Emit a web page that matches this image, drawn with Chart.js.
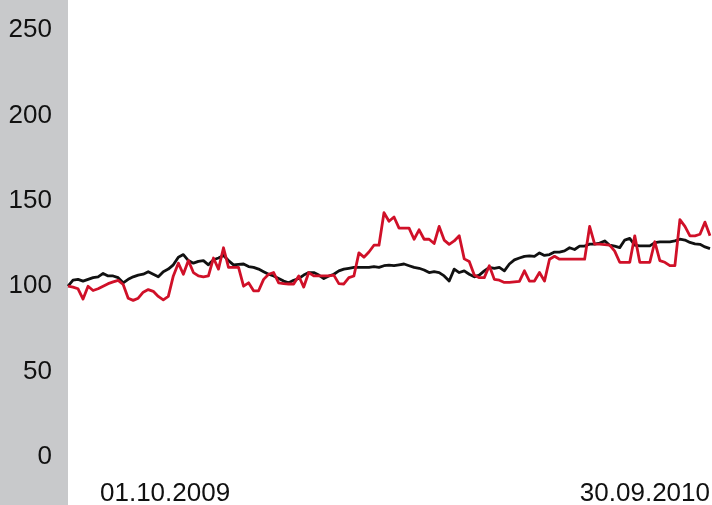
<!DOCTYPE html>
<html>
<head>
<meta charset="utf-8">
<script src="https://cdn.jsdelivr.net/npm/chart.js@4/dist/chart.umd.min.js"></script>
<style>
  html, body { margin: 0; padding: 0; background: #fff; }
  #wrapper { width: 712px; height: 505px; position: relative; }
</style>
</head>
<body>
<div id="wrapper"><canvas id="chartjs" width="712" height="505"></canvas></div>
<script>
// first and last date under the plot
const dateLabels = ['01.10.2009', '30.09.2010'];

const yTicks = [0, 50, 100, 150, 200, 250];

// benchmark index (black), rebased to 100
const indexValues = [
  100, 103.5, 104, 103, 104, 105, 105.5, 107.5, 106, 106,
  105, 102, 104, 105.5, 106.5, 107, 108.5, 107, 105.5, 108.5,
  110, 112.5, 117, 118.5, 115, 113.5, 114.5, 115, 112.5, 115.5,
  116.5, 118, 115, 112.5, 112.8, 113, 111.5, 111, 110, 108.5,
  107, 106, 104.5, 103, 102, 103.5, 104.5, 106.5, 108, 108,
  106.5, 104.5, 106, 107, 109, 110, 110.5, 111, 111, 111,
  111, 111.5, 111, 112, 112.3, 112, 112.5, 113, 112, 111,
  110.5, 109.5, 108, 108.5, 108, 106, 103, 110, 108, 109,
  107, 105.5, 106.5, 109, 111, 110.5, 111, 109, 113, 115.4,
  116.5, 117.5, 117.7, 117.5, 119.5, 118, 118.5, 120, 120, 120.7,
  122.5, 121.5, 123.5, 123.5, 124.6, 124.6, 125.3, 126.5, 124, 123.5,
  122.6, 127, 128, 124, 123.6, 123.6, 123.6, 125.5, 126, 126,
  126, 126.5, 127.5, 127, 125.6, 124.8, 124.5, 123, 122
];

// share price (red), rebased to 100
const stockValues = [
  100, 99.5, 98.5, 92.5, 100, 97.5, 98.5, 100, 101.5, 102.5,
  103.4, 101, 93, 91.7, 93, 96.5, 98, 97, 94, 92,
  94, 106, 113.5, 107, 115, 108, 106, 105.5, 106, 116.5,
  110, 122.5, 111, 111, 111, 100, 102, 97.3, 97.3, 104,
  107, 108, 102, 101.5, 101.3, 101.3, 106, 99.5, 108, 106,
  106, 106, 106, 106.5, 101.5, 101.3, 105, 106, 119.5, 117,
  120, 124, 124, 143, 138, 140.5, 134, 134, 134, 127.5,
  133, 127.5, 127.5, 125, 135, 127, 124.5, 126.5, 129.5, 116,
  114.5, 106.5, 105, 105, 112, 104, 103.5, 102.2, 102.2, 102.5,
  102.8, 109, 103, 103, 108, 103, 115.8, 117.5, 115.8, 115.8,
  115.8, 115.8, 115.8, 115.8, 135, 124.6, 124.6, 124.3, 124, 120.5,
  114, 114, 114, 129.5, 114, 114, 114, 126, 115, 114,
  112, 112, 139, 135, 129.5, 129.5, 130.4, 137.5, 129.5
];

const days = indexValues.map((v, i) => i);

const FONT = "'Liberation Sans', Arial, Helvetica, sans-serif";

// grey band behind the y axis labels
const greyPanel = {
  id: 'greyPanel',
  beforeDraw(chart) {
    const ctx = chart.ctx;
    ctx.save();
    ctx.fillStyle = '#c8c9cb';
    ctx.fillRect(0, 0, chart.scales.y.right, chart.height);
    ctx.restore();
  }
};

// the two dates under the plot
const dateTicks = {
  id: 'dateTicks',
  afterDraw(chart) {
    const ctx = chart.ctx;
    const x = chart.scales.x;
    const y = chart.chartArea.bottom + 37;
    ctx.save();
    ctx.font = '26px ' + FONT;
    ctx.fillStyle = '#111';
    ctx.textBaseline = 'middle';
    ctx.textAlign = 'left';
    ctx.fillText(dateLabels[0], x.getPixelForValue(0) + 32, y);
    ctx.textAlign = 'right';
    ctx.fillText(dateLabels[1], x.getPixelForValue(days.length - 1), y);
    ctx.restore();
  }
};

function drawChart(id) {
  const ctx = document.getElementById(id).getContext('2d');
  new Chart(ctx, {
    type: 'line',
    data: {
      labels: days,
      datasets: [{
        label: 'Share',
        data: stockValues,
        borderColor: 'rgb(208, 16, 40)',
        borderWidth: 2.8,
        pointRadius: 0,
        tension: 0,
        borderJoinStyle: 'round'
      }, {
        label: 'Index',
        data: indexValues,
        borderColor: '#111',
        borderWidth: 2.8,
        pointRadius: 0,
        tension: 0,
        borderJoinStyle: 'round'
      }]
    },
    options: {
      responsive: false,
      animation: false,
      layout: { padding: { top: 30, bottom: 48, right: 2, left: 0 } },
      plugins: { legend: { display: false }, tooltip: { enabled: false } },
      scales: {
        x: {
          display: false,
          offset: false
        },
        y: {
          min: 0,
          max: 250,
          afterFit: (s) => {
            s.width = 68;
            s.paddingTop = 0;
            s.paddingBottom = 0;
          },
          afterBuildTicks: (s) => { s.ticks = yTicks.map(v => ({ value: v })); },
          grid: { display: false, drawTicks: false },
          border: { display: false },
          ticks: {
            padding: 16,
            color: '#111',
            font: { family: FONT, size: 26 }
          }
        }
      }
    },
    plugins: [greyPanel, dateTicks]
  });
}

drawChart('chartjs');
</script>
</body>
</html>
